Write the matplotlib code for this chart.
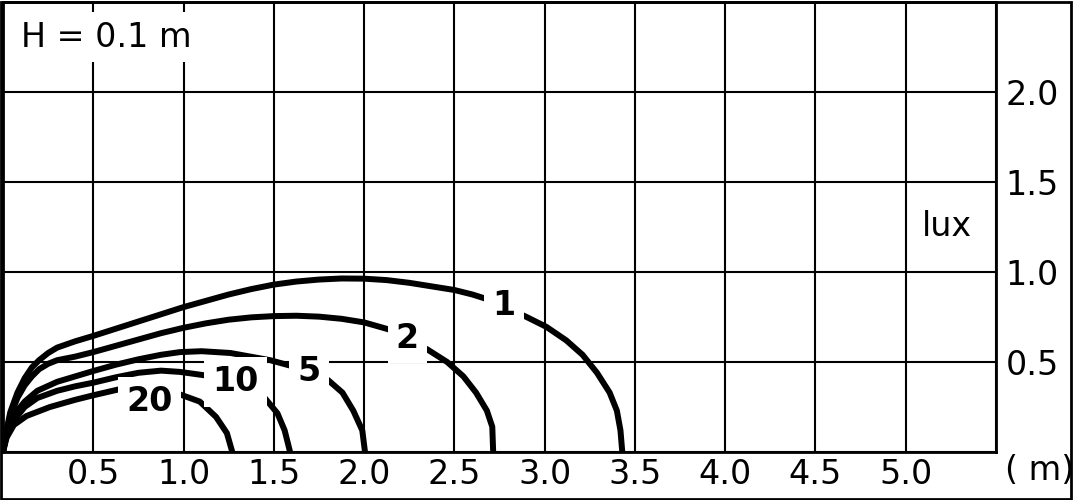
import matplotlib
matplotlib.use('Agg')
import matplotlib.pyplot as plt
from matplotlib.patches import Rectangle

# isolux curves, H = 0.1 m  (distance in m, illuminance axis in lux)
x1 = [0, 0.015, 0.04, 0.08, 0.12, 0.16, 0.2, 0.25, 0.3, 0.4, 0.5, 0.625, 0.75, 0.875, 1.0,
      1.125, 1.25, 1.375, 1.5, 1.625, 1.75, 1.875, 2.0, 2.125, 2.25, 2.375, 2.5, 2.6, 2.71,
      2.9, 3.01, 3.12, 3.21, 3.29, 3.36, 3.4, 3.42, 3.43]
y1 = [0, 0.1, 0.22, 0.33, 0.41, 0.47, 0.51, 0.55, 0.58, 0.615, 0.645, 0.685, 0.725, 0.765, 0.805,
      0.84, 0.875, 0.905, 0.93, 0.947, 0.958, 0.964, 0.963, 0.955, 0.94, 0.92, 0.9, 0.875, 0.84,
      0.75, 0.695, 0.62, 0.54, 0.44, 0.33, 0.23, 0.12, 0]

x2 = [0, 0.015, 0.04, 0.08, 0.12, 0.16, 0.2, 0.25, 0.3, 0.4, 0.5, 0.625, 0.75, 0.875, 1.0,
      1.125, 1.25, 1.375, 1.5, 1.625, 1.75, 1.875, 2.0, 2.14, 2.35, 2.46, 2.55, 2.62, 2.68,
      2.71, 2.715]
y2 = [0, 0.09, 0.2, 0.3, 0.37, 0.42, 0.46, 0.49, 0.51, 0.53, 0.555, 0.59, 0.625, 0.66, 0.69,
      0.715, 0.735, 0.748, 0.755, 0.757, 0.752, 0.74, 0.72, 0.68, 0.57, 0.5, 0.42, 0.33, 0.23,
      0.14, 0]

x5 = [0, 0.015, 0.04, 0.08, 0.12, 0.19, 0.3, 0.4, 0.5, 0.625, 0.75, 0.875, 0.98, 1.1, 1.26,
      1.48, 1.59, 1.7, 1.8, 1.88, 1.94, 1.99, 2.005]
y5 = [0, 0.08, 0.16, 0.23, 0.28, 0.34, 0.39, 0.42, 0.45, 0.485, 0.515, 0.54, 0.555, 0.56, 0.55,
      0.51, 0.48, 0.44, 0.4, 0.33, 0.23, 0.12, 0]

x10 = [0, 0.015, 0.04, 0.08, 0.12, 0.19, 0.3, 0.4, 0.5, 0.625, 0.75, 0.875, 0.98, 1.16, 1.3,
       1.45, 1.52, 1.56, 1.59]
y10 = [0, 0.07, 0.14, 0.2, 0.25, 0.3, 0.34, 0.365, 0.385, 0.415, 0.44, 0.452, 0.445, 0.42, 0.37,
       0.3, 0.215, 0.12, 0]

x20 = [0, 0.02, 0.06, 0.13, 0.26, 0.4, 0.5, 0.65, 0.8, 0.98, 1.09, 1.18, 1.24, 1.27]
y20 = [0, 0.08, 0.15, 0.2, 0.25, 0.29, 0.315, 0.35, 0.36, 0.32, 0.28, 0.195, 0.105, 0]

curve_labels = ['1', '2', '5', '10', '20']
label_x = [2.775, 2.24, 1.695, 1.29, 0.81]
label_y = [0.815, 0.63, 0.445, 0.39, 0.28]

xticks = [0.5, 1.0, 1.5, 2.0, 2.5, 3.0, 3.5, 4.0, 4.5, 5.0]
yticks = [0.5, 1.0, 1.5, 2.0]

plt.rcParams['font.family'] = ['DejaVu Sans']

fig = plt.figure(figsize=(10.74, 5.0), dpi=100)
ax = fig.add_axes([3 / 1074, 48 / 500, 993 / 1074, 450 / 500])

for xs, ys in [(x1, y1), (x2, y2), (x5, y5), (x10, y10), (x20, y20)]:
    ax.plot(xs, ys, color='black', lw=4.3, solid_capstyle='butt',
            solid_joinstyle='round', zorder=3)

for t, lx, ly in zip(curve_labels, label_x, label_y):
    ax.text(lx, ly, t, fontsize=24, fontweight='bold', ha='center', va='center',
            zorder=5, bbox=dict(boxstyle='square,pad=0.25', fc='white', ec='none'))

ax.set_xlim(0, 5.5)
ax.set_ylim(0, 2.5)

ax.set_xticks([0.5 * i for i in range(12)])
ax.set_xticklabels([''] + [f'{v:.1f}' for v in xticks] + [''])
ax.set_yticks([0.5 * i for i in range(6)])
ax.set_yticklabels([''] + [f'{v:.1f}' for v in yticks] + [''])
ax.yaxis.tick_right()
ax.tick_params(axis='both', length=0, labelsize=24, colors='black')
ax.tick_params(axis='x', pad=4)
ax.tick_params(axis='y', pad=7)

ax.grid(True, color='black', lw=1.5)
ax.set_axisbelow(True)
for s in ax.spines.values():
    s.set_linewidth(2)

ax.text(0.1, 2.305, 'H = 0.1 m', fontsize=24, ha='left', va='center', zorder=5,
        bbox=dict(boxstyle='square,pad=0.25', fc='white', ec='none'))
ax.text(5.23, 1.25, 'lux', fontsize=24, ha='center', va='center')

fig.text(1040 / 1074, 0.06, '( m)', fontsize=24, ha='center', va='center')
fig.patches.append(Rectangle((0.001, 0.002), 0.996, 0.995, transform=fig.transFigure,
                             fill=False, lw=2, ec='black'))

fig.savefig('out.png', dpi=100)
